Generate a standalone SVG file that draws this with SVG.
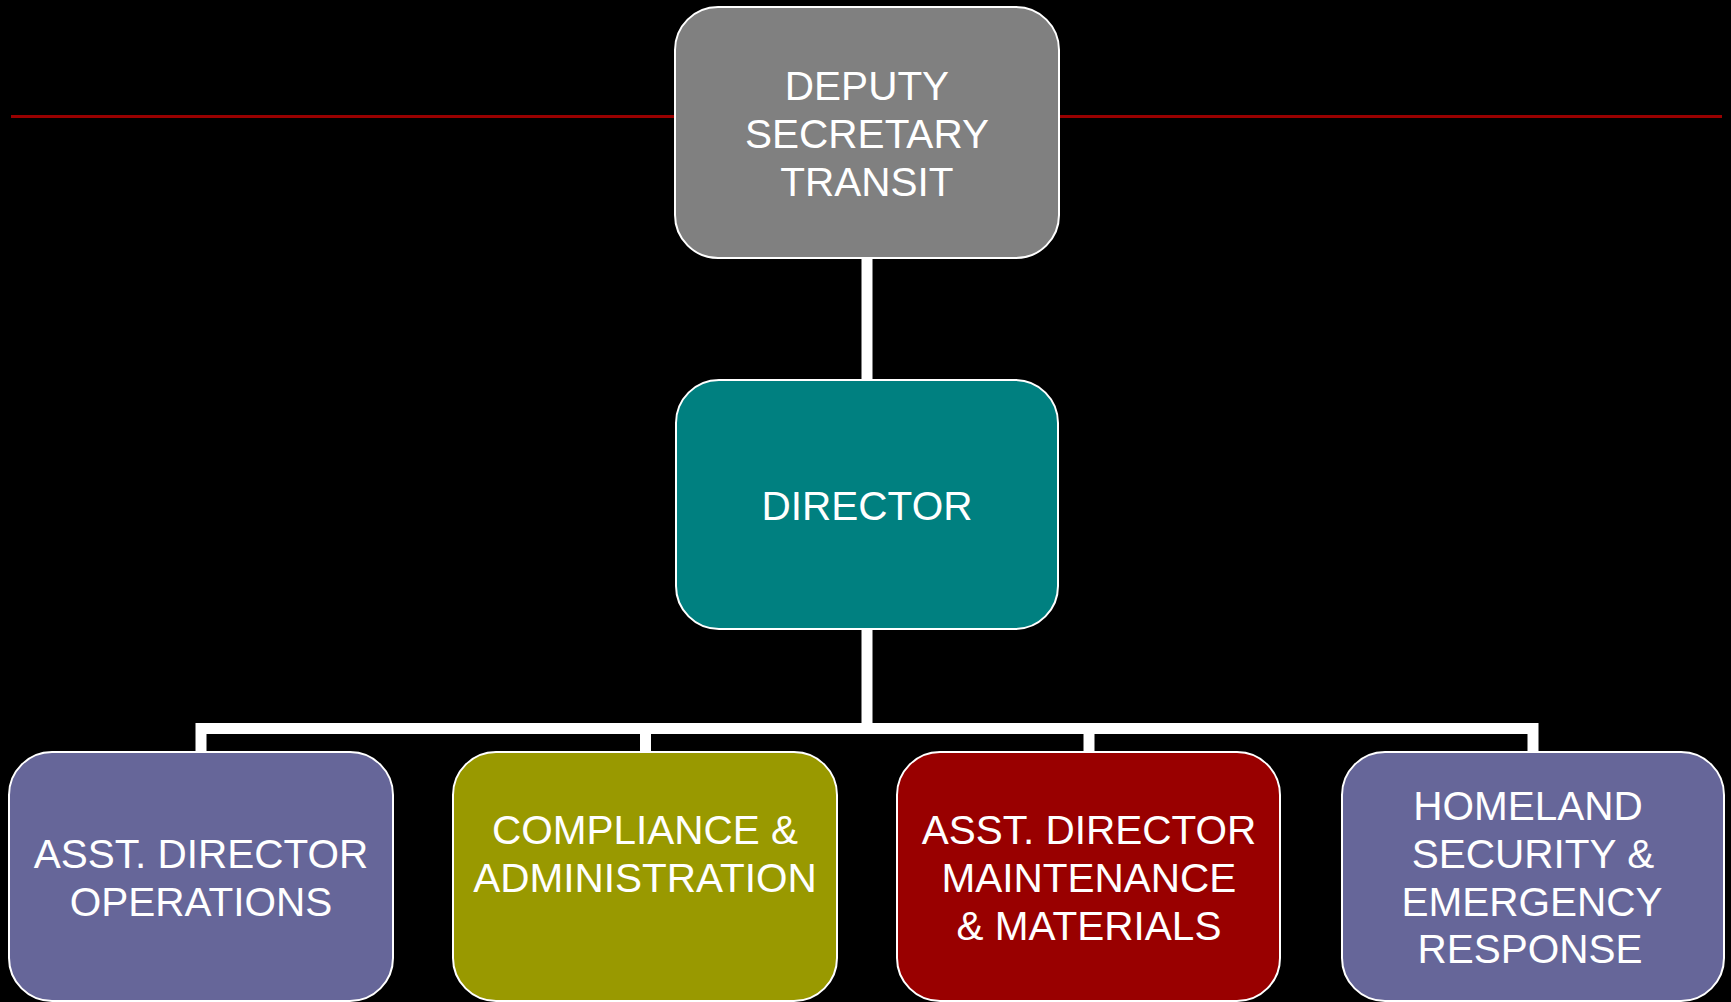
<svg xmlns="http://www.w3.org/2000/svg" width="1731" height="1002" viewBox="0 0 1731 1002">
<style>
.box{stroke:#ffffff;stroke-width:2}
.lbl{font-family:"Liberation Sans",Arial,sans-serif;font-size:40.5px;fill:#ffffff;text-anchor:middle}
.conn{stroke:#ffffff;stroke-width:11;fill:none}
</style>
<rect x="0" y="0" width="1731" height="1002" fill="#000000"/>
<line x1="11" y1="116.5" x2="1722" y2="116.5" stroke="#990000" stroke-width="3"/>
<g id="connectors">
<line class="conn" x1="867" y1="258" x2="867" y2="380"/>
<line class="conn" x1="867" y1="629" x2="867" y2="729"/>
<polyline class="conn" points="201,752 201,728.5 1533,728.5 1533,752"/>
<line class="conn" x1="645.5" y1="728" x2="645.5" y2="752"/>
<line class="conn" x1="1089" y1="728" x2="1089" y2="752"/>
</g>
<g id="deputy">
<rect class="box" x="675" y="7" width="384" height="251" rx="43" ry="43" fill="#808080"/>
<text class="lbl" x="867" y="100">DEPUTY</text>
<text class="lbl" x="867" y="148">SECRETARY</text>
<text class="lbl" x="867" y="196">TRANSIT</text>
</g>
<g id="director">
<rect class="box" x="676" y="380" width="382" height="249" rx="43" ry="43" fill="#008080"/>
<text class="lbl" x="867" y="520">DIRECTOR</text>
</g>
<g id="operations">
<rect class="box" x="9" y="752" width="384" height="249" rx="43" ry="43" fill="#666699"/>
<text class="lbl" x="201" y="868">ASST. DIRECTOR</text>
<text class="lbl" x="201" y="916">OPERATIONS</text>
</g>
<g id="compliance">
<rect class="box" x="453" y="752" width="384" height="249" rx="43" ry="43" fill="#999900"/>
<text class="lbl" x="645" y="844">COMPLIANCE &amp;</text>
<text class="lbl" x="645" y="892">ADMINISTRATION</text>
</g>
<g id="maintenance">
<rect class="box" x="897" y="752" width="383" height="249" rx="43" ry="43" fill="#990000"/>
<text class="lbl" x="1089" y="844">ASST. DIRECTOR</text>
<text class="lbl" x="1089" y="892">MAINTENANCE</text>
<text class="lbl" x="1089" y="940">&amp; MATERIALS</text>
</g>
<g id="homeland">
<rect class="box" x="1342" y="752" width="382" height="249" rx="43" ry="43" fill="#666699"/>
<text class="lbl" x="1528" y="820">HOMELAND</text>
<text class="lbl" x="1533" y="868">SECURITY &amp;</text>
<text class="lbl" x="1532" y="916">EMERGENCY</text>
<text class="lbl" x="1530" y="963">RESPONSE</text>
</g>
</svg>
